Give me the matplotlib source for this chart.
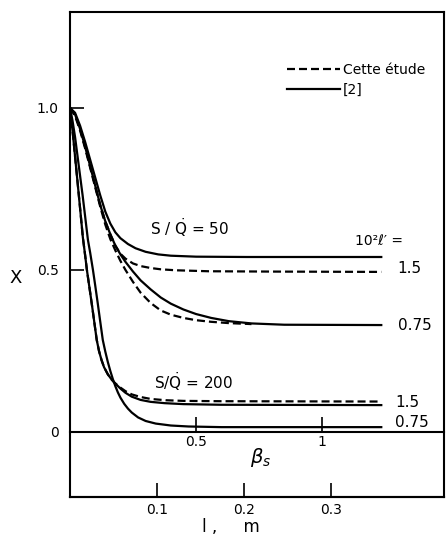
import matplotlib
matplotlib.use('Agg')
import matplotlib.pyplot as plt

# Curves (x = beta_s, y = chi)
# S/Q = 50, 10^2 l' = 1.5
b50_15 = [0, 0.02, 0.04, 0.06, 0.08, 0.10, 0.12, 0.14, 0.16, 0.18, 0.20, 0.23, 0.26, 0.30,
          0.35, 0.40, 0.5, 0.7, 1.235]
x50_15 = [1.0, 0.985, 0.945, 0.895, 0.84, 0.785, 0.73, 0.68, 0.643, 0.616, 0.598, 0.58, 0.567,
          0.556, 0.548, 0.544, 0.541, 0.540, 0.540]
b50_15d = [0, 0.02, 0.04, 0.06, 0.08, 0.10, 0.12, 0.14, 0.16, 0.18, 0.20, 0.22, 0.25, 0.28,
           0.32, 0.36, 0.42, 0.55, 0.8, 1.235]
x50_15d = [1.0, 0.98, 0.935, 0.88, 0.82, 0.76, 0.70, 0.65, 0.61, 0.575, 0.55, 0.535, 0.52,
           0.512, 0.506, 0.502, 0.499, 0.496, 0.495, 0.494]
# S/Q = 50, 10^2 l' = 0.75
b50_075 = [0, 0.02, 0.04, 0.06, 0.08, 0.10, 0.12, 0.14, 0.16, 0.18, 0.20, 0.22, 0.25, 0.28,
           0.32, 0.36, 0.40, 0.45, 0.50, 0.56, 0.63, 0.72, 0.85, 1.235]
x50_075 = [1.0, 0.98, 0.935, 0.88, 0.82, 0.76, 0.70, 0.65, 0.61, 0.575, 0.548, 0.525, 0.495,
           0.468, 0.44, 0.415, 0.396, 0.378, 0.364, 0.352, 0.342, 0.335, 0.331, 0.330]
b50_075d = [0, 0.02, 0.04, 0.06, 0.08, 0.10, 0.12, 0.14, 0.16, 0.18, 0.20, 0.22, 0.25, 0.28,
            0.32, 0.36, 0.40, 0.45, 0.50, 0.56, 0.63, 0.72]
x50_075d = [1.0, 0.975, 0.93, 0.875, 0.815, 0.755, 0.695, 0.64, 0.595, 0.56, 0.528, 0.5, 0.463,
            0.43, 0.398, 0.375, 0.362, 0.352, 0.345, 0.34, 0.336, 0.333]
# S/Q = 200, 10^2 l' = 1.5
b200_15 = [0, 0.01, 0.02, 0.03, 0.04, 0.051, 0.06, 0.067, 0.08, 0.09, 0.10, 0.106, 0.115, 0.125,
           0.135, 0.15, 0.165, 0.178, 0.20, 0.22, 0.245, 0.28, 0.32, 0.375, 0.45, 0.6, 1.235]
x200_15 = [1.0, 0.93, 0.85, 0.77, 0.69, 0.60, 0.545, 0.50, 0.43, 0.375, 0.318, 0.284, 0.25, 0.222,
           0.20, 0.178, 0.162, 0.151, 0.134, 0.121, 0.109, 0.099, 0.093, 0.089, 0.086, 0.084, 0.083]
b200_15d = [0, 0.01, 0.02, 0.03, 0.04, 0.051, 0.06, 0.067, 0.08, 0.09, 0.10, 0.106, 0.115, 0.125,
            0.135, 0.15, 0.165, 0.178, 0.20, 0.22, 0.245, 0.28, 0.32, 0.38, 0.45, 0.6, 1.235]
x200_15d = [1.0, 0.93, 0.85, 0.77, 0.69, 0.60, 0.545, 0.50, 0.43, 0.375, 0.318, 0.284, 0.25, 0.222,
            0.20, 0.178, 0.162, 0.151, 0.137, 0.126, 0.116, 0.108, 0.102, 0.098, 0.096, 0.095, 0.094]
# S/Q = 200, 10^2 l' = 0.75
b200_075 = [0, 0.01, 0.02, 0.03, 0.04, 0.05, 0.06, 0.071, 0.08, 0.091, 0.10, 0.11, 0.12, 0.13,
            0.14, 0.15, 0.16, 0.17, 0.18, 0.19, 0.20, 0.215, 0.23, 0.245, 0.27, 0.30, 0.34, 0.40,
            0.47, 0.6, 1.235]
x200_075 = [1.0, 0.96, 0.91, 0.85, 0.79, 0.73, 0.665, 0.593, 0.553, 0.50, 0.452, 0.397, 0.34,
            0.284, 0.248, 0.216, 0.188, 0.163, 0.141, 0.122, 0.106, 0.087, 0.072, 0.06, 0.045,
            0.034, 0.026, 0.02, 0.017, 0.015, 0.015]

beta_ticks = [0.5, 1]
beta_labels = ['0.5', '1']
l_ticks = [0.1, 0.2, 0.3]
l_labels = ['0.1', '0.2', '0.3']
chi_ticks = [0, 0.5, 1.0]
chi_labels = ['0', '0.5', '1.0']
beta_per_l = 3.45

plt.rcParams['font.family'] = ['DejaVu Sans']

fig = plt.figure(figsize=(4.46, 5.38), dpi=100)
ax = fig.add_axes([0.157, 0.0762, 0.838, 0.9015])

lw = 1.6
dash = (3.6, 1.8)
ax.plot(b50_15, x50_15, color='black', lw=lw, label='[2]')
ax.plot(b50_15d, x50_15d, color='black', lw=lw, dashes=dash, label='Cette étude')
ax.plot(b50_075, x50_075, color='black', lw=lw)
ax.plot(b50_075d, x50_075d, color='black', lw=lw, dashes=dash)
ax.plot(b200_15, x200_15, color='black', lw=lw)
ax.plot(b200_15d, x200_15d, color='black', lw=lw, dashes=dash)
ax.plot(b200_075, x200_075, color='black', lw=lw)

ax.set_xlim(0, 1.483)
ax.set_ylim(-0.2006, 1.296)
ax.set_xticks([])
ax.set_yticks(chi_ticks)
ax.set_yticklabels(chi_labels)
ax.tick_params(axis='y', direction='in', length=10, width=1.2, labelsize=10, pad=8)
for s in ax.spines.values():
    s.set_linewidth(1.5)

# beta_s axis on the line chi = 0
sec_b = ax.secondary_xaxis(0.0, transform=ax.transData)
sec_b.set_xticks(beta_ticks)
sec_b.set_xticklabels(beta_labels)
sec_b.tick_params(direction='in', length=11, width=1.2, labelsize=10, pad=2)
for s in sec_b.spines.values():
    s.set_linewidth(1.5)

# l, m axis at the bottom
sec_l = ax.secondary_xaxis('bottom', functions=(lambda b: b / beta_per_l, lambda l: l * beta_per_l))
sec_l.set_xticks(l_ticks)
sec_l.set_xticklabels(l_labels)
sec_l.tick_params(direction='in', length=10, width=1.2, labelsize=10, pad=4)
sec_l.spines['bottom'].set_linewidth(1.5)

# labels
ax.text(0.757, -0.08, r'$\beta_s$', fontsize=14, ha='center', va='center')
fig.text(231 / 446, 1 - 527 / 538, 'l ,     m', fontsize=12, ha='center', va='center')
ax.set_ylabel('X', rotation=0, fontsize=13)
ax.yaxis.set_label_coords(-0.146, 0.433)

ax.text(0.316, 0.63, r'S / $\dot{\mathrm{Q}}$ = 50', fontsize=11, va='center')
ax.text(0.335, 0.157, r'S/$\dot{\mathrm{Q}}$ = 200', fontsize=11, va='center')
ax.text(1.132, 0.59, '10²ℓ′ =', fontsize=10, va='center')
ax.text(1.30, 0.505, '1.5', fontsize=11, va='center')
ax.text(1.30, 0.330, '0.75', fontsize=11, va='center')
ax.text(1.29, 0.09, '1.5', fontsize=11, va='center')
ax.text(1.29, 0.028, '0.75', fontsize=11, va='center')

handles, labels = ax.get_legend_handles_labels()
ax.legend(handles[::-1], labels[::-1], loc='upper left', bbox_to_anchor=(287 / 446, 1 - 63 / 538),
          bbox_transform=fig.transFigure, frameon=False, fontsize=10, handlelength=3.8,
          handletextpad=0.2, borderpad=0, borderaxespad=0, labelspacing=0.45)

fig.savefig('out.png', dpi=100)
